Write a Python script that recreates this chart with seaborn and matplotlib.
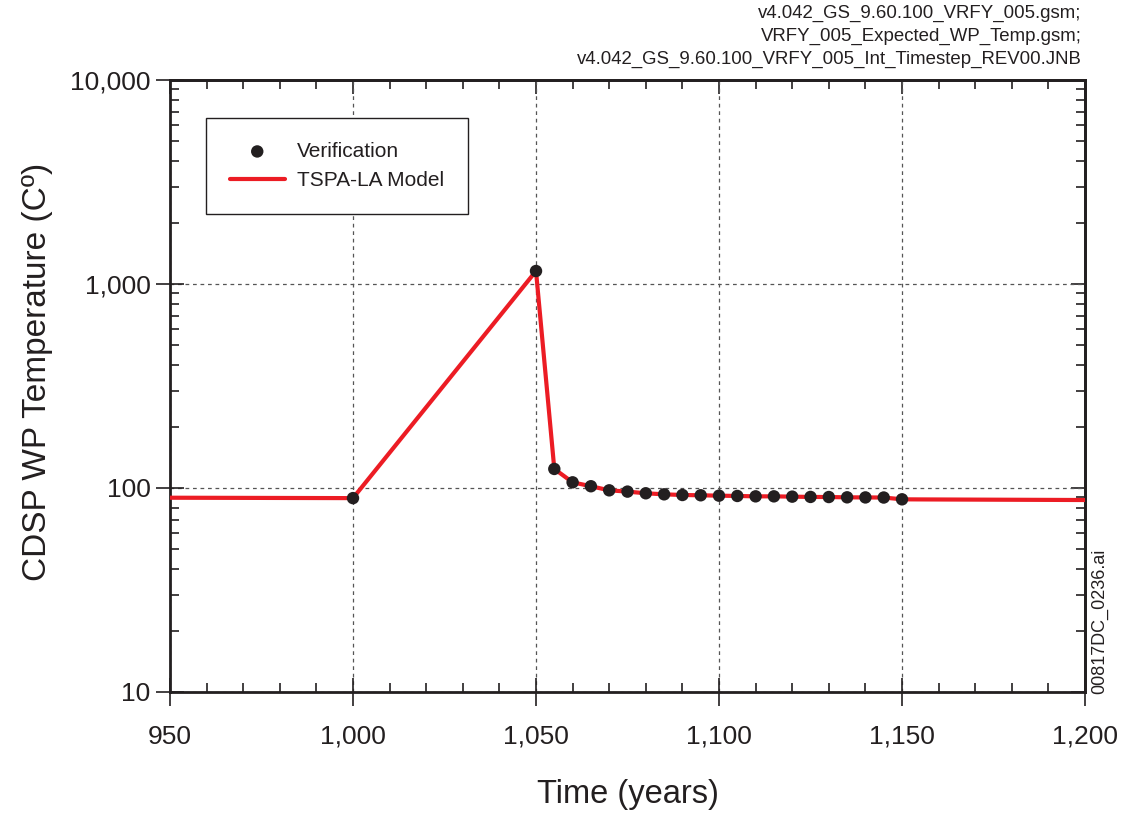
import numpy as np
import pandas as pd
import matplotlib
matplotlib.use("Agg")
import matplotlib.pyplot as plt
from matplotlib.ticker import FixedLocator, FuncFormatter, LogLocator, MultipleLocator, NullFormatter
import seaborn as sns

# Verification points (years, deg C)
verif_time = [1000, 1050, 1055, 1060, 1065, 1070, 1075, 1080, 1085, 1090, 1095,
              1100, 1105, 1110, 1115, 1120, 1125, 1130, 1135, 1140, 1145, 1150]
verif_temp = [89.2, 1158, 124, 106.6, 102, 97.4, 96.0, 94.2, 93.1, 92.4, 92.1,
              91.7, 91.4, 91.0, 91.0, 90.7, 90.4, 90.3, 90.0, 89.9, 89.8, 88.0]

# TSPA-LA model curve
model_time = [950, 1000, 1050, 1055, 1060, 1065, 1070, 1075, 1080, 1085, 1090, 1095,
              1100, 1105, 1110, 1115, 1120, 1125, 1130, 1135, 1140, 1145, 1150, 1155, 1200]
model_temp = [89.6, 89.2, 1158, 124, 106.6, 102, 97.4, 96.0, 94.2, 93.1, 92.4, 92.1,
              91.7, 91.4, 91.0, 91.0, 90.7, 90.4, 90.3, 90.0, 89.9, 89.8, 88.0, 87.9, 87.3]

x_ticks = [950, 1000, 1050, 1100, 1150, 1200]
y_ticks = [10, 100, 1000, 10000]

source_files = ["v4.042_GS_9.60.100_VRFY_005.gsm;",
                "VRFY_005_Expected_WP_Temp.gsm;",
                "v4.042_GS_9.60.100_VRFY_005_Int_Timestep_REV00.JNB"]

sns.set_style("ticks")
plt.rcParams["font.family"] = ["Liberation Sans", "DejaVu Sans"]

RED = "#ec1c24"
DOT = "#231f20"
INK = "#231f20"

fig = plt.figure(figsize=(11.28, 8.14), dpi=100)
ax = fig.add_axes([0.1507, 0.1499, 0.9619 - 0.1507, 0.9017 - 0.1499])

model_df = pd.DataFrame({"time": model_time, "temp": model_temp})
verif_df = pd.DataFrame({"time": verif_time, "temp": verif_temp})

sns.lineplot(data=model_df, x="time", y="temp", ax=ax, color=RED, linewidth=3.0,
             label="TSPA-LA Model", zorder=3, estimator=None, sort=False)
sns.scatterplot(data=verif_df, x="time", y="temp", ax=ax, color=DOT, s=80,
                edgecolor="none", label="Verification", zorder=4)

ax.set_yscale("log")
ax.set_xlim(950, 1200)
ax.set_ylim(10, 10000)

comma = FuncFormatter(lambda v, p: f"{int(round(v)):,}")
ax.xaxis.set_major_locator(FixedLocator(x_ticks))
ax.xaxis.set_minor_locator(MultipleLocator(10))
ax.xaxis.set_major_formatter(comma)
ax.yaxis.set_major_locator(FixedLocator(y_ticks))
ax.yaxis.set_minor_locator(LogLocator(base=10, subs=np.arange(2, 10)))
ax.yaxis.set_major_formatter(comma)
ax.yaxis.set_minor_formatter(NullFormatter())

ax.tick_params(which="major", direction="inout", length=20, width=1.2, color=INK,
               labelsize=19, labelcolor=INK)
ax.tick_params(axis="x", which="major", pad=13.5)
ax.tick_params(axis="y", which="major", pad=4)
ax.tick_params(which="minor", direction="in", length=6.5, width=1.2, color=INK)

# Inward ticks on the top and right edges
top = ax.secondary_xaxis("top")
top.xaxis.set_major_locator(FixedLocator(x_ticks))
top.xaxis.set_minor_locator(MultipleLocator(10))
top.tick_params(which="major", direction="in", length=10, width=1.2, color=INK, labeltop=False)
top.tick_params(which="minor", direction="in", length=6.5, width=1.2, color=INK)
right = ax.secondary_yaxis("right")
right.yaxis.set_major_locator(FixedLocator(y_ticks))
right.yaxis.set_minor_locator(LogLocator(base=10, subs=np.arange(2, 10)))
right.yaxis.set_minor_formatter(NullFormatter())
right.tick_params(which="major", direction="in", length=10, width=1.2, color=INK, labelright=False)
right.tick_params(which="minor", direction="in", length=6.5, width=1.2, color=INK)
for sec in (top, right):
    for s in sec.spines.values():
        s.set_linewidth(2.0)
        s.set_color(INK)

for s in ax.spines.values():
    s.set_visible(True)
    s.set_linewidth(2.0)
    s.set_color(INK)

ax.grid(True, which="major", linestyle=(0, (3, 3)), color="#555555", linewidth=0.9)
ax.set_axisbelow(True)

ax.set_xlabel("Time (years)", fontsize=23.5, color=INK, labelpad=22)
ax.set_ylabel("CDSP WP Temperature (C\u00ba)", fontsize=24, color=INK, labelpad=12)
ax.yaxis.label.set_y(0.523)

handles, labels = ax.get_legend_handles_labels()
order = [labels.index("Verification"), labels.index("TSPA-LA Model")]
leg = ax.legend([handles[i] for i in order], [labels[i] for i in order],
                loc="upper left", bbox_to_anchor=(0.039, 0.938), fontsize=15,
                frameon=True, fancybox=False, edgecolor=INK, framealpha=1,
                borderpad=1.15, handlelength=2.65, handletextpad=0.6, labelspacing=0.5,
                borderaxespad=0)
leg.get_frame().set_linewidth(1.0)
for t in leg.get_texts():
    t.set_color(INK)

fig.text(0.959, 0.917, "\n".join(source_files), ha="right", va="bottom",
         fontsize=13.4, color=INK, linespacing=1.43)
fig.text(0.975, 0.237, "00817DC_0236.ai", rotation=90, ha="center", va="center",
         fontsize=13, color=INK)

fig.savefig("out.png", dpi=100)
